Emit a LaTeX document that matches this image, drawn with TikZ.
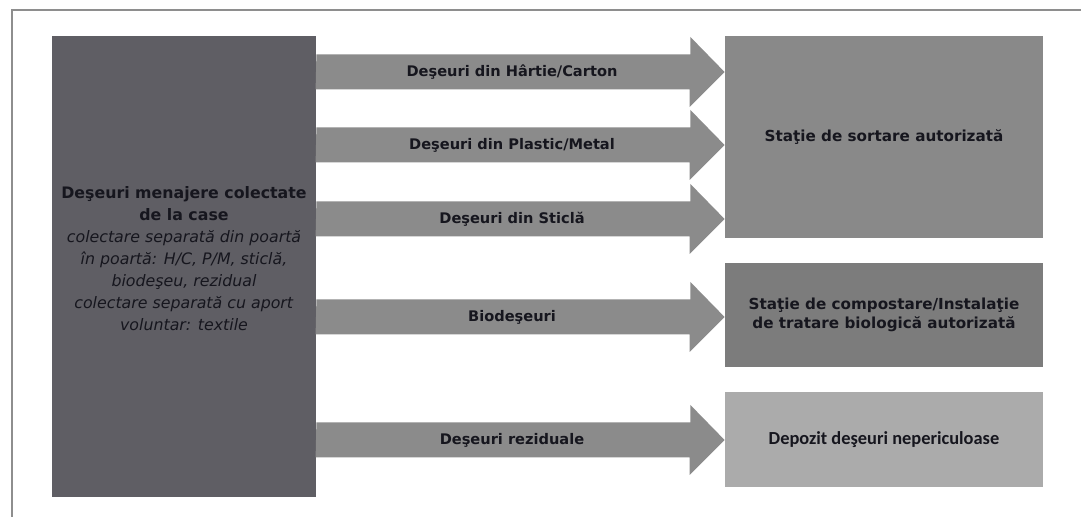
\documentclass[tikz,border=0pt]{standalone}
\usepackage{fontspec}
\setmainfont{DejaVu Sans}[ItalicFont={DejaVu Sans Oblique},BoldFont={DejaVu Sans Bold}]
\newfontfamily\calibrifont{Carlito}[BoldFont={Carlito Bold}]

\definecolor{framegray}{HTML}{8E8E8E}
\definecolor{srcgray}{HTML}{5F5E64}
\definecolor{flowgray}{HTML}{8B8B8B}
\definecolor{sortgray}{HTML}{898989}
\definecolor{compgray}{HTML}{7C7C7C}
\definecolor{landgray}{HTML}{ABABAB}
\definecolor{inkgray}{HTML}{16161E}

\begin{document}
\begin{tikzpicture}[x=0.5pt,y=-0.5pt,
		box/.style={fill=#1, inner sep=0pt, minimum width=159pt, align=center, text=inkgray,
			font=\bfseries\fontsize{7.6}{9.2}\selectfont},
		flow/.style={fill=flowgray},
		flowlabel/.style={text=inkgray, inner sep=0pt, font=\bfseries\fontsize{7.3}{9}\selectfont}]
			\useasboundingbox (0,0) rectangle (1081,517);

			% frame
			\draw [framegray, line width=0.6pt] (12,517) -- (12,10) -- (1081,10) ;

			% boxes
			\node[box=srcgray, minimum width=132pt, minimum height=230.5pt] (src) at (184,266.5) {} ;
			\node[box=sortgray, minimum height=101pt] (sort) at (884,137) {Staţie de sortare autorizată} ;
			\node[box=compgray, minimum height=52pt] (comp) at (884,315) {Staţie de compostare/Instalaţie\\de tratare biologică autorizată} ;
			\node[box=landgray, minimum height=47.5pt, font=\calibrifont\bfseries\fontsize{9.2}{11}\selectfont] (land) at (884,439.5) {Depozit deşeuri nepericuloase} ;

			% source text
			\node[text=inkgray, align=center, inner sep=0pt, font=\fontsize{7.9}{11}\selectfont] (srctext) at ([yshift=4pt]src.center)
				{\textbf{Deşeuri menajere colectate}\\ \textbf{de la case}\\ \textit{colectare separată din poartă}\\
				 \textit{în poartă: H/C, P/M, sticlă,}\\ \textit{biodeşeu, rezidual}\\ \textit{colectare separată cu aport}\\ \textit{voluntar: textile}} ;

			% arrows
			\fill [flow] (src.east |- 0,72) ++(0,-17.5) -- ++(374,0) -- ++(0,-17.5) -- (sort.west |- 0,72) -- ++(-35,35) -- ++(0,-17.5) -- ++(-374,0) -- cycle ;
			\fill [flow] (src.east |- 0,145) ++(0,-17.5) -- ++(374,0) -- ++(0,-17.5) -- (sort.west |- 0,145) -- ++(-35,35) -- ++(0,-17.5) -- ++(-374,0) -- cycle ;
			\fill [flow] (src.east |- 0,219) ++(0,-17.5) -- ++(374,0) -- ++(0,-17.5) -- (sort.west |- 0,219) -- ++(-35,35) -- ++(0,-17.5) -- ++(-374,0) -- cycle ;
			\fill [flow] (src.east |- 0,317) ++(0,-17.5) -- ++(374,0) -- ++(0,-17.5) -- (comp.west |- 0,317) -- ++(-35,35) -- ++(0,-17.5) -- ++(-374,0) -- cycle ;
			\fill [flow] (src.east |- 0,440) ++(0,-17.5) -- ++(374,0) -- ++(0,-17.5) -- (land.west |- 0,440) -- ++(-35,35) -- ++(0,-17.5) -- ++(-374,0) -- cycle ;

			% arrow labels
			\node[flowlabel] (paper) at (512,72) {Deşeuri din Hârtie/Carton} ;
			\node[flowlabel] (plastic) at (512,145) {Deşeuri din Plastic/Metal} ;
			\node[flowlabel] (glass) at (512,219) {Deşeuri din Sticlă} ;
			\node[flowlabel] (bio) at (512,317) {Biodeşeuri} ;
			\node[flowlabel] (resid) at (512,440) {Deşeuri reziduale} ;
		\end{tikzpicture}
\end{document}
